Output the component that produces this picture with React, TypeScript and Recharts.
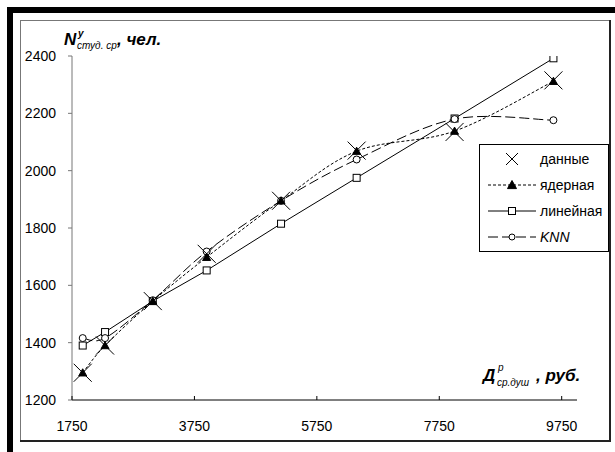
import React from "react";
import { ComposedChart, Line, XAxis, YAxis } from "recharts";

// per-capita income (x) and student counts
const incomes = [1925, 2290, 3070, 3950, 5165, 6400, 8000, 9615];
const observed = [1295, 1390, 1545, 1710, 1895, 2070, 2135, 2315];
const kernel = [1295, 1390, 1545, 1698, 1895, 2068, 2138, 2312];
const linear = [1390, 1437, 1545, 1652, 1815, 1975, 2182, 2392];
const knn = [1416, 1416, 1548, 1718, 1895, 2039, 2180, 2176];

const xTicks = [1750, 3750, 5750, 7750, 9750];
const yTicks = [1200, 1400, 1600, 1800, 2000, 2200, 2400];
const seriesNames = ["данные", "ядерная", "линейная", "KNN"];

const FONT = '"Liberation Sans", Arial, sans-serif';

const data = incomes.map((x, i) => ({
  x,
  observed: observed[i],
  kernel: kernel[i],
  linear: linear[i],
  knn: knn[i],
}));

// Excel-like smoothed line (Catmull-Rom as cubic beziers)
function excelSmooth(context: any) {
  let pts: number[][] = [];
  return {
    areaStart() {},
    areaEnd() {},
    lineStart() {
      pts = [];
    },
    point(x: number, y: number) {
      pts.push([+x, +y]);
    },
    lineEnd() {
      if (!pts.length) return;
      context.moveTo(pts[0][0], pts[0][1]);
      for (let i = 0; i < pts.length - 1; i++) {
        const p0 = pts[Math.max(i - 1, 0)];
        const p1 = pts[i];
        const p2 = pts[i + 1];
        const p3 = pts[Math.min(i + 2, pts.length - 1)];
        context.bezierCurveTo(
          p1[0] + (p2[0] - p0[0]) / 6,
          p1[1] + (p2[1] - p0[1]) / 6,
          p2[0] - (p3[0] - p1[0]) / 6,
          p2[1] - (p3[1] - p1[1]) / 6,
          p2[0],
          p2[1]
        );
      }
    },
  };
}

const Cross = ({ cx, cy, s = 9 }: any) => (
  <g stroke="#000" strokeWidth={1}>
    <line x1={cx - s} y1={cy - s} x2={cx + s} y2={cy + s} />
    <line x1={cx - s} y1={cy + s} x2={cx + s} y2={cy - s} />
  </g>
);

const Triangle = ({ cx, cy, s = 4 }: any) => (
  <path d={`M${cx},${cy - s} L${cx + s},${cy + s * 0.8} L${cx - s},${cy + s * 0.8} Z`} fill="#000" stroke="#000" />
);

const Square = ({ cx, cy, s = 3.5 }: any) => (
  <rect x={cx - s} y={cy - s} width={s * 2} height={s * 2} fill="#fff" stroke="#000" strokeWidth={1} />
);

const Circle = ({ cx, cy, r = 3.5 }: any) => (
  <circle cx={cx} cy={cy} r={r} fill="#fff" stroke="#000" strokeWidth={1} />
);

const XTick = ({ x, y, payload }: any) => (
  <g>
    <line x1={x} x2={x} y1={y} y2={y - 4} stroke="#000" />
    <text x={x} y={y + 31} textAnchor="middle" fontSize={14} fontFamily={FONT} fill="#000">
      {payload.value}
    </text>
  </g>
);

const legendIcons = [
  { dash: "", stroke: "none", marker: (cx: number) => <Cross cx={cx} cy={10} s={6} /> },
  { dash: "3 2", stroke: "#000", marker: (cx: number) => <Triangle cx={cx} cy={10} s={4.5} /> },
  { dash: "", stroke: "#000", marker: (cx: number) => <Square cx={cx} cy={10} s={3.5} /> },
  { dash: "10 4", stroke: "#000", marker: (cx: number) => <Circle cx={cx} cy={10} r={3} /> },
];

const LegendBox = () => (
  <div
    style={{
      position: "absolute",
      left: 479,
      top: 144,
      width: 130,
      height: 108,
      border: "1px solid #000",
      background: "#fff",
      paddingTop: 1,
      boxSizing: "border-box",
      fontFamily: FONT,
      fontSize: 14,
    }}
  >
    {seriesNames.map((name, i) => (
      <div key={name} style={{ height: 26, display: "flex", alignItems: "center" }}>
        <svg width={60} height={20} style={{ display: "block" }}>
          <line x1={8} x2={56} y1={10} y2={10} stroke={legendIcons[i].stroke} strokeDasharray={legendIcons[i].dash} />
          {legendIcons[i].marker(32)}
        </svg>
        <span style={{ fontStyle: name === "KNN" ? "italic" : "normal" }}>{name}</span>
      </div>
    ))}
  </div>
);

export default function App() {
  return (
    <div style={{ position: "absolute", left: 0, top: 0, width: 615, height: 452, background: "#fff" }}>
      <ComposedChart
        width={615}
        height={452}
        data={data}
        margin={{ top: 56, right: 38, bottom: 22, left: 12 }}
      >
        <XAxis
          dataKey="x"
          type="number"
          domain={[1750, 10000]}
          ticks={xTicks}
          allowDataOverflow
          height={30}
          tickSize={0}
          tickMargin={0}
          tickLine={false}
          axisLine={{ stroke: "#000" }}
          tick={<XTick />}
        />
        <YAxis
          type="number"
          domain={[1200, 2400]}
          ticks={yTicks}
          allowDataOverflow
          width={60}
          tickSize={4}
          tickMargin={12}
          axisLine={{ stroke: "#777" }}
          tickLine={{ stroke: "#777" }}
          tick={{ fill: "#000", fontSize: 14, fontFamily: FONT }}
        />
        <Line
          name="линейная"
          dataKey="linear"
          type="linear"
          stroke="#000"
          strokeWidth={1}
          dot={(p: any) => <Square key={`sq-${p.index}`} cx={p.cx} cy={p.cy} />}
          activeDot={false}
          isAnimationActive={false}
        />
        <Line
          name="KNN"
          dataKey="knn"
          type={excelSmooth as any}
          stroke="#000"
          strokeWidth={1}
          strokeDasharray="10 4"
          dot={(p: any) => <Circle key={`ci-${p.index}`} cx={p.cx} cy={p.cy} />}
          activeDot={false}
          isAnimationActive={false}
        />
        <Line
          name="ядерная"
          dataKey="kernel"
          type={excelSmooth as any}
          stroke="#000"
          strokeWidth={1}
          strokeDasharray="3 2"
          dot={(p: any) => <Triangle key={`tr-${p.index}`} cx={p.cx} cy={p.cy} />}
          activeDot={false}
          isAnimationActive={false}
        />
        <Line
          name="данные"
          dataKey="observed"
          stroke="none"
          dot={(p: any) => <Cross key={`cr-${p.index}`} cx={p.cx} cy={p.cy} />}
          activeDot={false}
          isAnimationActive={false}
        />
      </ComposedChart>

      <LegendBox />

      {/* frames and axis titles */}
      <svg width={615} height={452} style={{ position: "absolute", left: 0, top: 0, pointerEvents: "none" }}>
        <rect x={10} y={10} width={700} height={700} fill="none" stroke="#000" strokeWidth={6} />
        <line x1={20.5} y1={20} x2={20.5} y2={441} stroke="#777" />
        <line x1={20} y1={20.5} x2={610} y2={20.5} stroke="#777" />
        <line x1={610} y1={20} x2={610} y2={442} stroke="#222" strokeWidth={2} />
        <line x1={20} y1={441} x2={611} y2={441} stroke="#222" strokeWidth={2} />
        <g fontFamily={FONT} fill="#000" fontStyle="italic">
          <text x={64} y={45} fontSize={17} fontWeight="bold">N</text>
          <text x={78} y={37} fontSize={10} fontWeight="bold">у</text>
          <text x={77} y={49} fontSize={10}>студ. ср</text>
          <text x={117} y={45} fontSize={17} fontWeight="bold">, чел.</text>
          <text x={483} y={381} fontSize={17} fontWeight="bold">Д</text>
          <text x={498} y={371} fontSize={10}>р</text>
          <text x={497} y={386} fontSize={10}>ср.душ</text>
          <text x={536} y={381} fontSize={17} fontWeight="bold">, руб.</text>
        </g>
      </svg>
    </div>
  );
}
